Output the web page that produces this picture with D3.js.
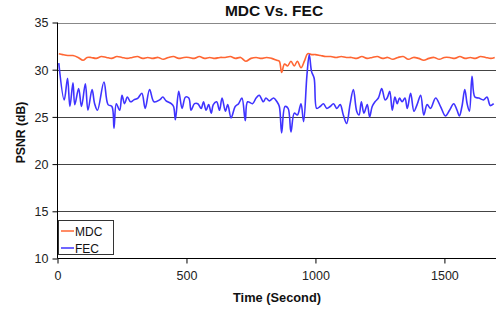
<!DOCTYPE html>
<html><head><meta charset="utf-8">
<script src="https://cdn.jsdelivr.net/npm/d3@7"></script>
<style>body{margin:0;background:#fff;}svg{display:block;font-family:"Liberation Sans",Arial,sans-serif;}</style>
</head><body><svg id="c" width="496" height="309"></svg>
<script>
const title = "MDC Vs. FEC";
const xLabel = "Time (Second)";
const yLabel = "PSNR (dB)";
const xTicks = [0, 500, 1000, 1500];
const yTicks = [10, 15, 20, 25, 30, 35];
const seriesNames = ["MDC", "FEC"];

const fecTime = [5,26,39,48,60,67,82,93,108,118,134,144,155,180,196,211,219,228,241,250,260,271,283,296,312,327,340,357,374,396,408,421,441,450,457,470,483,496,509,518,531,544,557,566,576,586,596,604,617,628,638,651,660,673,689,702,715,728,737,756,770,782,798,808,821,838,851,860,869,882,894,905,918,930,944,954,967,976,985,995,1005,1018,1031,1044,1057,1070,1083,1096,1108,1121,1134,1147,1160,1169,1178,1188,1201,1210,1220,1231,1244,1257,1270,1278,1288,1298,1308,1317,1326,1336,1347,1356,1369,1382,1394,1408,1420,1433,1446,1466,1485,1504,1520,1536,1549,1558,1568,1579,1588,1597,1607,1618,1633,1652,1665,1678,1691];
const fecPsnr = [30.7,26.8,29.1,26.1,28.6,26.3,28.0,26.1,28.5,25.7,27.9,26.4,25.7,28.7,26.3,26.1,23.8,26.4,25.7,27.3,26.4,27.1,26.6,26.8,27.0,27.5,25.9,27.9,26.6,26.8,27.1,26.7,26.4,26.1,24.7,27.7,25.9,27.1,27.0,25.7,26.4,26.4,25.9,26.6,25.7,26.3,25.4,26.3,26.6,25.7,27.0,25.6,26.3,24.9,26.1,26.4,27.0,24.6,26.6,26.4,27.0,27.3,26.6,27.0,26.7,27.0,26.6,26.1,23.3,26.1,25.9,23.4,25.4,25.2,26.4,24.5,29.4,31.6,29.8,29.1,25.9,26.1,26.4,25.9,26.1,26.4,25.9,26.3,25.2,24.3,26.3,27.9,25.6,25.2,26.6,25.4,26.3,25.0,26.1,26.6,27.0,28.0,26.8,27.0,27.7,25.7,27.1,26.4,27.0,26.6,27.0,25.9,27.5,25.6,26.3,27.3,25.2,26.3,25.9,27.0,26.1,25.1,25.7,26.4,25.7,25.1,26.1,27.9,26.4,25.6,29.3,27.1,27.0,26.8,27.1,26.2,26.4];

const mdcTime = [5,20,40,60,80,99,115,130,150,170,190,210,230,250,270,290,310,330,350,370,390,410,430,450,470,490,510,530,550,570,590,610,630,650,670,690,710,730,750,770,790,810,830,850,860,869,880,892,905,918,930,944,957,970,985,1000,1020,1040,1060,1080,1100,1120,1140,1160,1180,1200,1220,1240,1260,1280,1300,1320,1340,1360,1380,1400,1420,1440,1460,1480,1500,1520,1540,1560,1580,1600,1620,1640,1660,1680,1695];
const mdcPsnr = [31.7,31.6,31.5,31.5,31.3,31.0,31.3,31.3,31.2,31.4,31.3,31.2,31.4,31.3,31.2,31.3,31.4,31.2,31.3,31.2,31.3,31.1,31.3,31.4,31.2,31.3,31.3,31.2,31.4,31.2,31.3,31.2,31.3,31.3,31.4,31.2,31.3,30.9,31.2,31.3,31.2,31.3,31.2,31.0,30.9,29.7,30.6,30.4,30.9,30.4,30.9,30.2,30.9,31.7,31.6,31.6,31.5,31.4,31.4,31.3,31.4,31.3,31.3,31.2,31.4,31.2,31.3,31.4,31.2,31.3,31.1,31.3,31.4,31.1,31.3,31.2,31.0,31.2,31.3,31.1,31.3,31.3,31.2,31.4,31.2,31.3,31.2,31.4,31.3,31.2,31.3];

const colors = {MDC: "#ff6633", FEC: "#3f33ff"};

const svg = d3.select("#c");
const x = d3.scaleLinear().domain([0, 1700]).range([57.5, 496]);
const y = d3.scaleLinear().domain([10, 35]).range([258.5, 22.5]);

// gridlines
svg.append("g").selectAll("line").data(yTicks.filter(d => d > 10)).join("line")
  .attr("x1", x(0)).attr("x2", 496)
  .attr("y1", d => Math.round(y(d)) + 0.5).attr("y2", d => Math.round(y(d)) + 0.5)
  .attr("stroke", d => d === 35 ? "#888" : "#444").attr("stroke-width", 1);

// axes
const yAxis = d3.axisLeft(y).tickValues(yTicks).tickFormat(d3.format("d")).tickSize(5).tickPadding(4);
const gy = svg.append("g").attr("transform", "translate(57.5,0)").call(yAxis);
const xAxis = d3.axisBottom(x).tickValues(xTicks).tickFormat(d3.format("d")).tickSize(5).tickPadding(8);
const gx = svg.append("g").attr("transform", "translate(0,258.5)").call(xAxis);
[gx, gy].forEach(g => {
  g.select(".domain").remove();
  g.selectAll("line").attr("stroke", "#000");
  g.selectAll("text").attr("font-size", 12.5).attr("fill", "#222")
    .attr("font-family", '"Liberation Sans",Arial,sans-serif');
});
gy.selectAll("text").attr("dy", "0.35em");
svg.append("line").attr("x1", 57.5).attr("x2", 57.5).attr("y1", y(35)).attr("y2", y(10)).attr("stroke", "#000");
svg.append("line").attr("x1", 57.5).attr("x2", 496).attr("y1", 258.5).attr("y2", 258.5).attr("stroke", "#000");

// lines
const line = d3.line().x(d => x(d[0])).y(d => y(d[1])).curve(d3.curveCatmullRom.alpha(0.5));
svg.append("clipPath").attr("id", "pc").append("rect")
  .attr("x", 57.5).attr("y", 0).attr("width", 440).attr("height", 259);
svg.append("path").datum(mdcTime.map((t, i) => [t, mdcPsnr[i]]))
  .attr("d", line).attr("fill", "none").attr("stroke", colors.MDC).attr("stroke-width", 1.6)
  .attr("stroke-linejoin", "round").attr("clip-path", "url(#pc)");
svg.append("path").datum(fecTime.map((t, i) => [t, fecPsnr[i]]))
  .attr("d", line).attr("fill", "none").attr("stroke", colors.FEC).attr("stroke-width", 1.6)
  .attr("stroke-linejoin", "round").attr("clip-path", "url(#pc)");

// title & labels
svg.append("text").attr("x", 274).attr("y", 16).attr("text-anchor", "middle")
  .attr("font-size", 15.5).attr("font-weight", "bold").attr("fill", "#111").text(title);
svg.append("text").attr("x", 277).attr("y", 302).attr("text-anchor", "middle")
  .attr("font-size", 12.8).attr("font-weight", "bold").attr("fill", "#111").text(xLabel);
svg.append("text").attr("transform", "translate(24.5,132.5) rotate(-90)").attr("text-anchor", "middle")
  .attr("font-size", 12.2).attr("font-weight", "bold").attr("fill", "#111").text(yLabel);

// legend
const lg = svg.append("g");
lg.append("rect").attr("x", 58.5).attr("y", 220.5).attr("width", 55).attr("height", 34)
  .attr("fill", "#fff").attr("stroke", "#333").attr("stroke-width", 1);
seriesNames.forEach((n, i) => {
  const yy = 231 + i * 17;
  lg.append("line").attr("x1", 61).attr("x2", 74).attr("y1", yy).attr("y2", yy)
    .attr("stroke", colors[n]).attr("stroke-width", 1.5);
  lg.append("text").attr("x", 75).attr("y", yy + 4.5).attr("font-size", 12).attr("fill", "#111").text(n);
});
</script></body></html>
